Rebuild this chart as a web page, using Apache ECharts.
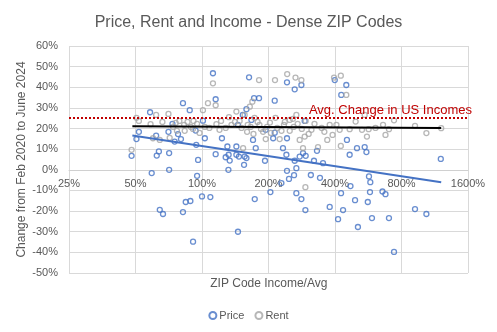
<!DOCTYPE html>
<html>
<head>
<meta charset="utf-8">
<script src="https://cdn.jsdelivr.net/npm/echarts@6/dist/echarts.min.js"></script>
<style>html,body{margin:0;padding:0;background:#fff;}#c{width:497px;height:332px;}</style>
</head>
<body>
<div id="c"></div>
<script>
// ZIP code income relative to average (1 = 100%)
var priceIncome = [0.48,0.505,0.518,0.582,0.592,0.62,0.624,0.638,0.644,0.666,0.705,0.71,0.71,0.735,0.752,0.779,0.803,0.82,0.82,0.844,0.88,0.886,0.911,0.936,0.942,0.95,0.96,1.0,1.01,1.03,1.091,1.121,1.153,1.153,1.231,1.28,1.303,1.317,1.32,1.335,1.431,1.431,1.455,1.455,1.47,1.53,1.55,1.56,1.589,1.589,1.633,1.674,1.702,1.72,1.733,1.751,1.812,1.928,1.943,2.04,2.1,2.134,2.134,2.288,2.326,2.41,2.425,2.425,2.425,2.476,2.61,2.628,2.628,2.674,2.674,2.768,2.818,2.818,2.866,2.916,2.938,2.947,3.11,3.213,3.315,3.42,3.53,3.785,3.99,4.13,4.26,4.27,4.35,4.5,4.53,4.66,4.7,4.93,5.03,5.08,5.45,5.55,5.63,5.7,5.76,5.78,5.88,6.56,6.77,7.02,7.4,9.21,10.37,12.05];
// Price change, Feb 2020 to June 2024 (%)
var priceChange = [6.8,14.9,18.4,27.9,-1.6,16.6,6.9,8.9,-19.4,-21.4,18.4,8.1,0,22.3,13.7,17.3,14.9,32.3,-20.5,-15.6,28.9,-15.1,-34.8,19.0,12.1,-2.9,4.8,-12.9,23.8,15.3,-13.2,46.8,34.2,7.6,15.3,6.1,11.3,0,7.3,4.5,11.3,7.3,-30,21.8,6.4,26.6,2.4,6.4,5.7,29.4,44.8,24.2,14.5,34.7,-14.2,10.5,34.7,4.4,19.4,-10.8,15.3,33.5,18.0,-6.4,10.5,7.3,42.4,15.3,-0.5,-4.4,-2.6,39.0,4.4,0.8,-11.3,6.4,41.1,-14.2,8.1,23.7,-19.5,6.8,-2.5,4.4,9.2,-3.9,3.2,-18.0,43.5,-23.9,-11.3,36.3,-19.5,41.1,14.5,7.3,-7.9,-14.7,10.5,-27.7,11.0,8.6,-15.6,-3.2,-10.8,-6.0,-23.4,-10.5,-11.8,-23.4,-39.8,-19.0,-21.4,5.3];
var rentIncome = [0.48,0.505,0.518,0.585,0.6,0.62,0.644,0.662,0.705,0.714,0.74,0.76,0.77,0.79,0.83,0.835,0.86,0.89,0.91,0.915,0.95,0.975,1.01,1.03,1.064,1.08,1.121,1.153,1.162,1.2,1.22,1.28,1.325,1.36,1.41,1.431,1.48,1.51,1.535,1.56,1.6,1.61,1.646,1.66,1.69,1.71,1.73,1.785,1.812,1.82,1.85,1.89,1.943,1.97,2.03,2.05,2.14,2.15,2.19,2.247,2.29,2.35,2.37,2.43,2.495,2.495,2.58,2.6,2.65,2.674,2.71,2.768,2.818,2.83,2.866,2.916,2.938,2.947,3.04,3.13,3.23,3.35,3.48,3.58,3.69,3.785,3.9,3.96,4.06,4.2,4.25,4.25,4.5,4.66,4.96,5.3,5.45,5.58,5.68,6.1,6.6,6.77,7.02,7.4,9.21,10.37,12.1];
// Rent change, Feb 2020 to June 2024 (%)
var rentChange = [9.7,25.2,23.7,22.1,15.3,26.6,14.5,23.2,27.1,15.5,20.8,22.7,18.9,23.7,21.8,18.9,23.2,20.8,19.8,23.7,22.3,17.9,28.9,20.8,32.3,20.3,41.9,31.3,22.1,19.4,23.7,20.3,25.5,21.8,23.2,28.2,23.7,20.3,10.5,26.6,18.4,21.8,30.6,20.8,33.0,17.4,25.2,23.2,43.5,21.8,19.8,18.4,14.9,20.8,22.9,17.9,43.5,25.2,20.3,14.9,18.9,21.8,23.2,46.4,24.2,18.9,24.7,20.8,44.7,26.6,22.3,14.5,43.5,19.8,10.5,16.1,-8.4,23.7,17.4,19.4,22.3,11.0,20.3,18.4,14.5,21.8,16.9,44.7,21.8,19.4,45.6,11.6,36.3,19.7,23.4,19.4,26.6,16.1,19.7,20.3,21.8,16.9,19.7,24.0,21.3,17.8,20.2];
// Trend line endpoints
var priceTrendX = [0.484, 12.1], priceTrendY = [16.6, -6.0];
var rentTrendX = [0.484, 12.1], rentTrendY = [21.1, 20.3];
var incomeAvgChange = 25;
var xTicks = [0.25, 0.5, 1, 2, 4, 8, 16];
var yMin = -50, yMax = 60, yStep = 10;

function zip(a, b) { return a.map(function (v, i) { return [v, b[i]]; }); }

var FONT = 'Liberation Sans, Arial, sans-serif';
var GRID_TOP = 46, GRID_H = 227;
// move the x axis line and its labels up to the 0% line
var zeroOffset = -GRID_H * (0 - yMin) / (yMax - yMin);

var chart = echarts.init(document.getElementById('c'), null, {renderer: 'canvas'});
chart.setOption({
  animation: false,
  backgroundColor: '#fff',
  textStyle: {fontFamily: FONT},
  title: {
    text: 'Price, Rent and Income - Dense ZIP Codes',
    left: 'center', top: 10,
    textStyle: {fontSize: 16, fontWeight: 'normal', color: '#595959', fontFamily: FONT}
  },
  grid: {left: 69, top: GRID_TOP, width: 399, height: GRID_H, containLabel: false},
  legend: {
    data: ['Price', 'Rent'],
    bottom: 6, left: 'center',
    itemWidth: 7, itemHeight: 7, itemGap: 10,
    textStyle: {fontSize: 11, color: '#595959', fontFamily: FONT, padding: [0, 0, 0, -2]}
  },
  xAxis: {
    type: 'log', logBase: 2, min: xTicks[0], max: xTicks[xTicks.length - 1], interval: 1,
    position: 'bottom', offset: zeroOffset,
    axisLine: {show: true, onZero: false, lineStyle: {color: '#D0D0D0', width: 1}},
    axisTick: {show: false},
    axisLabel: {color: '#595959', fontSize: 11, margin: 9,
      formatter: function (v) { return Math.round(v * 100) + '%'; }},
    splitLine: {show: true, lineStyle: {color: '#D9D9D9', width: 1}}
  },
  yAxis: {
    type: 'value', min: yMin, max: yMax, interval: yStep,
    name: 'Change from Feb 2020 to June 2024', nameLocation: 'middle', nameGap: 41,
    nameMoveOverlap: false,
    nameTextStyle: {fontSize: 12, color: '#595959', fontFamily: FONT},
    axisLine: {show: false, onZero: false},
    axisTick: {show: false},
    axisLabel: {color: '#595959', fontSize: 11, margin: 11, formatter: '{value}%'},
    splitLine: {show: true, lineStyle: {color: '#D9D9D9', width: 1}}
  },
  graphic: [{
    type: 'text', x: 268.8, y: 284,
    style: {text: 'ZIP Code Income/Avg', textAlign: 'center', textVerticalAlign: 'middle',
      fontSize: 12, fill: '#595959', fontFamily: FONT}
  }, {
    type: 'text', x: 472, y: 110, z: 10,
    style: {text: 'Avg. Change in US Incomes', textAlign: 'right', textVerticalAlign: 'middle',
      fontSize: 13, fill: '#C00000', fontFamily: FONT}
  }],
  series: [
    {
      name: 'Price', type: 'scatter', symbol: 'circle', symbolSize: 5,
      data: zip(priceIncome, priceChange),
      itemStyle: {color: 'rgba(255,255,255,0)', borderColor: '#4472C4', borderWidth: 1.3},
      z: 2
    },
    {
      name: 'Rent', type: 'scatter', symbol: 'circle', symbolSize: 5,
      data: zip(rentIncome, rentChange),
      itemStyle: {color: 'rgba(255,255,255,0)', borderColor: '#A5A5A5', borderWidth: 1.3},
      z: 2
    },
    {
      name: 'Price trend', type: 'line', data: zip(priceTrendX, priceTrendY),
      symbol: 'none', lineStyle: {color: '#4472C4', width: 2}, z: 3, silent: true
    },
    {
      name: 'Rent trend', type: 'line', data: zip(rentTrendX, rentTrendY),
      symbol: 'none', lineStyle: {color: '#000000', width: 2}, z: 3, silent: true,
      markLine: {
        silent: true, symbol: 'none', label: {show: false},
        lineStyle: {color: '#C00000', width: 2, type: 'dotted'},
        data: [{yAxis: incomeAvgChange}]
      }
    }
  ]
});
</script>
</body>
</html>
